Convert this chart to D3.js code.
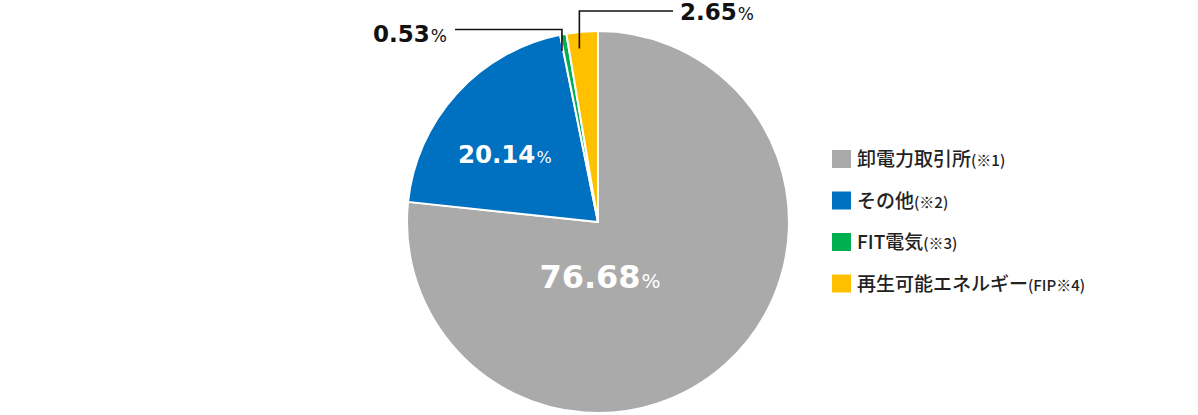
<!DOCTYPE html>
<html>
<head>
<meta charset="utf-8">
<script src="https://cdn.jsdelivr.net/npm/d3@7"></script>
<style>
  body { margin: 0; background: #fff; }
  svg { display: block; }
</style>
</head>
<body>
<div id="chart"></div>
<script>
const categories = ["卸電力取引所", "その他", "FIT電気", "再生可能エネルギー"];
const notes = ["(※1)", "(※2)", "(※3)", "(FIP※4)"];
const values = [76.68, 20.14, 0.53, 2.65];
const colors = ["#aaaaaa", "#0070c0", "#00b050", "#ffc000"];

const width = 1198, height = 415;
const cx = 598, cy = 222, radius = 191;

const svg = d3.select("#chart").append("svg")
    .attr("width", width)
    .attr("height", height);

const data = categories.map((c, i) => ({ name: c, note: notes[i], value: values[i], color: colors[i] }));

const pie = d3.pie().value(d => d.value).sort(null);
const arcs = pie(data);
const arc = d3.arc().innerRadius(0).outerRadius(radius);

const g = svg.append("g").attr("transform", "translate(" + cx + "," + cy + ")");

g.selectAll("path.slice")
    .data(arcs)
  .enter().append("path")
    .attr("class", "slice")
    .attr("d", arc)
    .attr("fill", d => d.data.color)
    .attr("stroke", "#fff")
    .attr("stroke-width", 2)
    .attr("stroke-linejoin", "round");

const numFont = "'DejaVu Sans', sans-serif";

// label helper: big number + small %
const addLabel = (x, y, d, big, small, fill, anchor) => {
    const t = g.append("text")
        .attr("x", x).attr("y", y)
        .attr("text-anchor", anchor)
        .attr("font-family", numFont)
        .attr("fill", fill);
    t.append("tspan").attr("font-size", big).attr("font-weight", "bold").text(d.data.value.toFixed(2));
    t.append("tspan").attr("font-size", small).attr("font-weight", "normal").attr("dx", 1).text("%");
}

// inside labels
addLabel(2, 66, arcs[0], 32, 20, "#fff", "middle");
const blueC = d3.arc().innerRadius(118).outerRadius(118).centroid(arcs[1]);
addLabel(blueC[0] - 6, blueC[1] + 20, arcs[1], 24.5, 16, "#fff", "middle");

// outside labels with leader lines
const leader = (d, topY, endX) => {
    const p = d3.arc().innerRadius(176).outerRadius(176).centroid(d);
    const x = p[0] - 4;
    g.append("path")
        .attr("d", d3.line()([[x, p[1] + 2], [x, topY], [endX, topY]]))
        .attr("fill", "none")
        .attr("stroke", "#111")
        .attr("stroke-width", 1.6);
}
leader(arcs[2], 29.5 - cy, 455 - cx);
addLabel(373 - cx, 42 - cy, arcs[2], 23, 17, "#111", "start");
leader(arcs[3], 11 - cy, 673 - cx);
addLabel(680 - cx, 20 - cy, arcs[3], 23, 17, "#111", "start");

// legend
const legend = svg.append("g").attr("transform", "translate(832,150)");
const rows = legend.selectAll("g")
    .data(data)
  .enter().append("g")
    .attr("transform", (d, i) => "translate(0," + (i * 41.5) + ")");
rows.append("rect")
    .attr("width", 19).attr("height", 18)
    .attr("fill", d => d.color);
const lt = rows.append("text")
    .attr("x", 25).attr("y", 16)
    .attr("font-family", "'Noto Sans CJK JP', sans-serif")
    .attr("font-weight", 500)
    .attr("fill", "#222");
lt.append("tspan").attr("font-size", 19).text(d => d.name);
lt.append("tspan").attr("font-size", 15).text(d => d.note);
</script>
</body>
</html>
